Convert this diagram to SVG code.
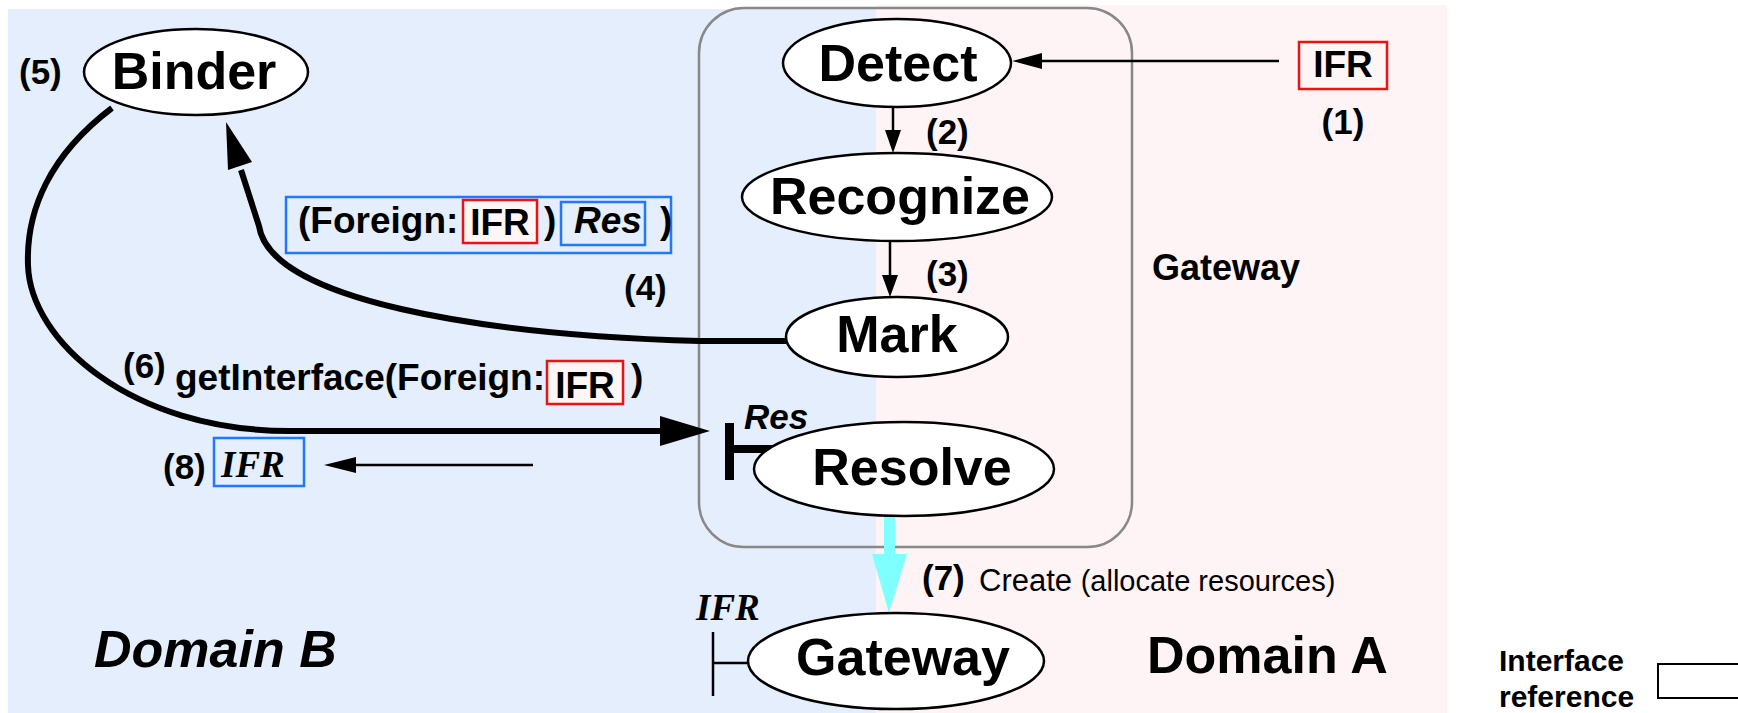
<svg xmlns="http://www.w3.org/2000/svg" width="1738" height="713" viewBox="0 0 1738 713">
<style>
text{font-family:"Liberation Sans",Arial,sans-serif;fill:#000}
.big{font-size:52px;font-weight:bold;text-anchor:middle}
.num{font-size:35px;font-weight:bold}
.lbl{font-size:37px;font-weight:bold}
.ser{font-family:"Liberation Serif","Times New Roman",serif;font-style:italic;font-weight:bold;font-size:37px}
.el{fill:#fff;stroke:#000;stroke-width:2.5}
.red{fill:#fef5f5;stroke:#ee1111;stroke-width:2.5}
.blu{fill:none;stroke:#2277ff;stroke-width:2.5}
.thick{fill:none;stroke:#000;stroke-width:6}
.thin{fill:none;stroke:#000;stroke-width:2.5}
</style>
<g id="background">
<rect x="8" y="9" width="868" height="704" fill="#e4eefc"/>
<rect x="876" y="5" width="571" height="708" fill="#fef4f5"/>
<rect x="699" y="8" width="433" height="539" rx="45" ry="45" fill="none" stroke="#888" stroke-width="2.5"/>
<text x="1152" y="280" style="font-size:36px;font-weight:bold">Gateway</text>
<text x="94" y="667" style="font-size:52px;font-weight:bold;font-style:italic">Domain B</text>
<text x="1147" y="673" style="font-size:52px;font-weight:bold">Domain A</text>
</g>
<g id="connectors">
<line class="thin" x1="1279" y1="61" x2="1040" y2="61"/>
<polygon points="1012,61 1042,53 1042,69"/>
<line class="thin" x1="893" y1="107" x2="893" y2="132"/>
<polygon points="893,153 885,130 901,130"/>
<line class="thin" x1="890" y1="242" x2="890" y2="277"/>
<polygon points="890,297 882,275 898,275"/>
<path class="thick" d="M786 341 L700 341 C480 335 270 300 259 226 L241 170"/>
<polygon points="226,122 252,162 228,170"/>
<path class="thick" d="M112 108 C50 155 26 210 28 265 C30 340 130 431 290 431 L662 431"/>
<polygon points="710,431 660,416 660,446"/>
<line class="thin" x1="533" y1="465" x2="354" y2="465" stroke-width="3"/>
<polygon points="324,465 356,457 356,473"/>
<rect x="884" y="512" width="11" height="44" fill="#80ffff"/>
<polygon points="872,554 907,554 889,613" fill="#80ffff"/>
</g>
<g id="ifr1">
<rect class="red" x="1299" y="42" width="88" height="47"/>
<text x="1343" y="77" class="lbl" text-anchor="middle">IFR</text>
<text x="1343" y="134" class="num" text-anchor="middle">(1)</text>
</g>
<g id="binder">
<ellipse class="el" cx="196" cy="72" rx="112" ry="43"/>
<text x="194" y="89" class="big">Binder</text>
<text x="19" y="84" class="num">(5)</text>
</g>
<g id="detect">
<ellipse class="el" cx="897" cy="63" rx="114" ry="44"/>
<text x="898" y="81" class="big">Detect</text>
</g>
<text x="926" y="144" class="num">(2)</text>
<g id="recognize">
<ellipse class="el" cx="897" cy="197" rx="155" ry="44"/>
<text x="900" y="214" class="big">Recognize</text>
</g>
<text x="926" y="286" class="num">(3)</text>
<g id="mark">
<ellipse class="el" cx="897" cy="337" rx="111" ry="40"/>
<text x="897" y="352" class="big">Mark</text>
</g>
<g id="label4">
<rect class="blu" x="286" y="197" width="385" height="56"/>
<text x="298" y="233" class="lbl">(Foreign:</text>
<rect class="red" x="463" y="200" width="74" height="43"/>
<text x="500" y="235" class="lbl" text-anchor="middle">IFR</text>
<text x="544" y="233" class="lbl">)</text>
<rect class="blu" x="561" y="202" width="84" height="43"/>
<text x="574" y="233" class="lbl" font-style="italic">Res</text>
<text x="660" y="233" class="lbl">)</text>
<text x="624" y="300" class="num">(4)</text>
</g>
<g id="label6">
<text x="123" y="378" class="num">(6)</text>
<text x="175" y="390" class="lbl">getInterface(Foreign:</text>
<rect class="red" x="547" y="361" width="76" height="43"/>
<text x="585" y="398" class="lbl" text-anchor="middle">IFR</text>
<text x="631" y="390" class="lbl">)</text>
</g>
<g id="label8">
<text x="163" y="479" class="num">(8)</text>
<rect class="blu" x="214" y="438" width="90" height="48"/>
<text x="221" y="477" class="ser">IFR</text>
</g>
<g id="resolve">
<rect x="725" y="423" width="9" height="57"/>
<rect x="734" y="445" width="40" height="8"/>
<text x="744" y="429" style="font-size:35px;font-weight:bold;font-style:italic">Res</text>
<ellipse class="el" cx="904" cy="469" rx="150" ry="47"/>
<text x="912" y="485" class="big">Resolve</text>
</g>
<g id="label7">
<text x="922" y="590" class="num">(7)</text>
<text x="979" y="591" style="font-size:31px">Create <tspan style="font-size:29px">(allocate resources)</tspan></text>
</g>
<g id="gateway">
<text x="696" y="620" class="ser">IFR</text>
<line class="thin" x1="713" y1="632" x2="713" y2="696"/>
<line class="thin" x1="713" y1="663" x2="750" y2="663"/>
<ellipse class="el" cx="896" cy="661" rx="148" ry="48"/>
<text x="903" y="675" class="big">Gateway</text>
</g>
<g id="legend">
<text x="1499" y="671" style="font-size:30px;font-weight:bold">Interface</text>
<text x="1499" y="707" style="font-size:30px;font-weight:bold">reference</text>
<rect x="1658" y="664" width="100" height="34" fill="none" stroke="#000" stroke-width="2"/>
</g>
</svg>
